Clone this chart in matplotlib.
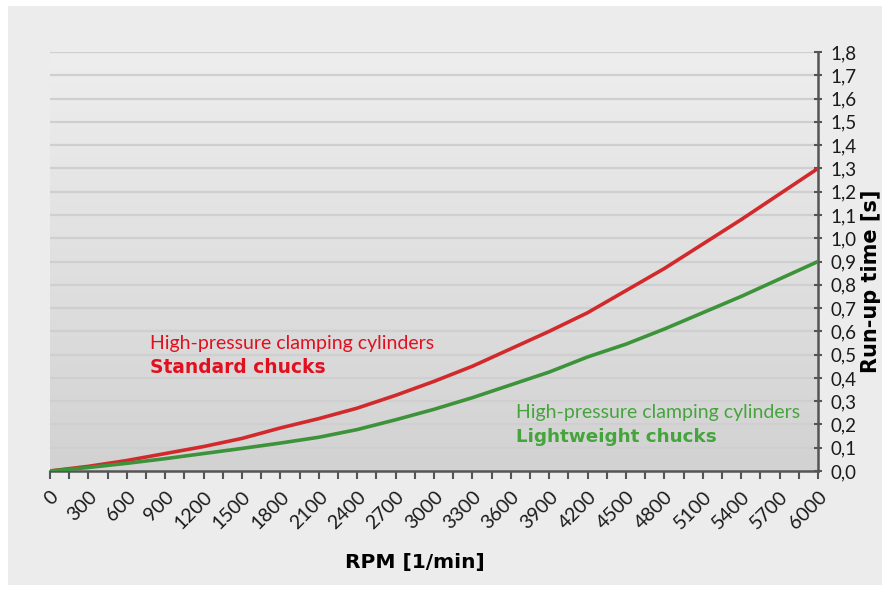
import numpy as np
import matplotlib
matplotlib.use("Agg")
import matplotlib.pyplot as plt
from matplotlib.patches import Rectangle

plt.rcParams['font.family'] = ['Lato', 'DejaVu Sans']

# Daten
rpm = [0, 300, 600, 900, 1200, 1500, 1800, 2100, 2400, 2700, 3000,
       3300, 3600, 3900, 4200, 4500, 4800, 5100, 5400, 5700, 6000]
standard = [0.0, 0.02, 0.045, 0.075, 0.105, 0.14, 0.185, 0.225, 0.27, 0.325, 0.385,
            0.45, 0.525, 0.60, 0.68, 0.775, 0.87, 0.975, 1.08, 1.19, 1.30]
leicht = [0.0, 0.015, 0.033, 0.053, 0.075, 0.097, 0.12, 0.145, 0.178, 0.22, 0.265,
          0.315, 0.37, 0.425, 0.49, 0.545, 0.61, 0.68, 0.75, 0.825, 0.90]
y_ticks = np.arange(0, 19) / 10.0
y_labels = ["%.1f" % v for v in y_ticks]
y_labels = [s.replace(".", ",") for s in y_labels]

rot = "#d22a2c"
gruen = "#3d933a"
text_rot = "#e2101f"
text_gruen = "#45a53c"
fett = ['DejaVu Sans']

fig = plt.figure(figsize=(8.9, 5.89), dpi=100)
fig.patch.set_facecolor("white")
fig.patches.append(Rectangle((8/890, 4/589), 874/890, 579/589, transform=fig.transFigure,
                             facecolor="#ececec", edgecolor="none", zorder=-10))

ax = fig.add_axes([50/890, 118/589, 768/890, 419/589])
ax.set_facecolor("none")

# Verlauf im Hintergrund
grad = np.linspace(0, 1, 256).reshape(-1, 1)
ax.imshow(grad, extent=[0, 1, 0, 1], transform=ax.transAxes, aspect="auto",
          cmap=matplotlib.colors.LinearSegmentedColormap.from_list("g", ["#d2d2d2", "#eeeeee"]),
          origin="lower", zorder=0)

for v in y_ticks[1:]:
    ax.axhline(v, color="#cfcfcf", lw=1.6, zorder=1)

ax.plot(rpm, standard, color=rot, lw=2.6, zorder=3)
ax.plot(rpm, leicht, color=gruen, lw=2.6, zorder=3)

ax.set_xlim(0, 6000)
ax.set_ylim(0, 1.8)

ax.spines['left'].set_visible(False)
ax.spines['top'].set_visible(False)
ax.spines['right'].set_color("#555555")
ax.spines['bottom'].set_color("#555555")
ax.spines['right'].set_linewidth(1.8)
ax.spines['bottom'].set_linewidth(1.8)

ax.yaxis.tick_right()
ax.yaxis.set_label_position("right")
ax.set_yticks(y_ticks)
ax.set_yticklabels(y_labels, fontsize=13.5, color="#1a1a1a")
ax.tick_params(axis="y", direction="inout", length=6, width=1.5, color="#555555", pad=6)

ax.set_xticks(rpm)
ax.set_xticklabels([str(r) for r in rpm], rotation=45, ha="right", va="top",
                   rotation_mode="anchor", fontsize=14, color="#1a1a1a")
ax.set_xticks(np.arange(150, 6000, 300), minor=True)
ax.tick_params(axis="x", which="both", direction="out", length=6, width=1.5,
               color="#555555", pad=6)

ax.set_xlabel("RPM [1/min]", fontsize=14.5, fontweight="bold", family=fett)
ax.xaxis.set_label_coords(0.475, -0.195)
ax.set_ylabel("Run-up time [s]", fontsize=15, fontweight="bold", family=fett)
ax.yaxis.set_label_coords(1.056, 0.453)

ax.text(0.13, 0.305, "High-pressure clamping cylinders", transform=ax.transAxes,
        color=text_rot, fontsize=14, va="center", zorder=4)
ax.text(0.13, 0.248, "Standard chucks", transform=ax.transAxes,
        color=text_rot, fontsize=13.4, fontweight="bold", family=fett, va="center", zorder=4)
ax.text(0.607, 0.14, "High-pressure clamping cylinders", transform=ax.transAxes,
        color=text_gruen, fontsize=14, va="center", zorder=4)
ax.text(0.607, 0.082, "Lightweight chucks", transform=ax.transAxes,
        color=text_gruen, fontsize=13.2, fontweight="bold", family=fett, va="center", zorder=4)

fig.savefig("out.png", dpi=100, facecolor=fig.get_facecolor())
